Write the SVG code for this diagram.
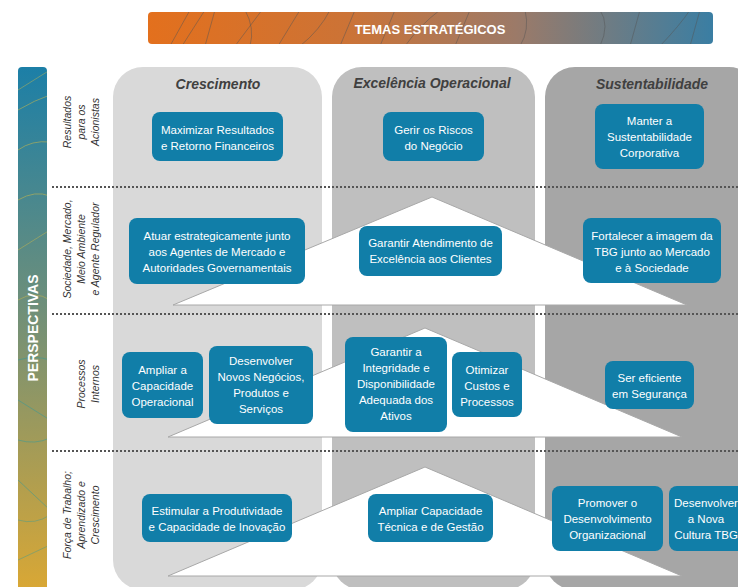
<svg xmlns="http://www.w3.org/2000/svg" width="738" height="587" viewBox="0 0 738 587">
<defs>
<linearGradient id="gBanner" x1="0" y1="0" x2="1" y2="0">
<stop offset="0" stop-color="#e3701d"/>
<stop offset="0.35" stop-color="#cc7336"/>
<stop offset="0.65" stop-color="#9c7a68"/>
<stop offset="1" stop-color="#3a7ea3"/>
</linearGradient>
<linearGradient id="gBar" x1="0" y1="0" x2="0" y2="1">
<stop offset="0" stop-color="#1c7fa7"/>
<stop offset="0.45" stop-color="#6e8f7a"/>
<stop offset="1" stop-color="#dca833"/>
</linearGradient>
<clipPath id="cBanner"><rect x="148" y="12" width="565" height="32" rx="4"/></clipPath>
<clipPath id="cBar"><rect x="18" y="67" width="29" height="530" rx="4"/></clipPath>
<style>
.col-title{font-family:"Liberation Sans",Arial,sans-serif;font-size:14px;font-weight:bold;font-style:italic;fill:#404040;text-anchor:middle}
.row-label{font-family:"Liberation Sans",Arial,sans-serif;font-size:10.5px;font-style:italic;fill:#333333;text-anchor:middle}
.node rect{fill:#117ea8}
.node text{font-family:"Liberation Sans",Arial,sans-serif;font-size:11.5px;fill:#ffffff;text-anchor:middle}
.tri{fill:#ffffff;stroke:#a8a8a8;stroke-width:1}
.dots{stroke:#555555;stroke-width:2;stroke-dasharray:2 2;fill:none}
.deco{fill:none;stroke-width:0.8}
</style>
</defs>

<!-- banner -->
<g id="banner">
<rect x="148" y="12" width="565" height="32" rx="4" fill="url(#gBanner)"/>
<g clip-path="url(#cBanner)" class="deco" stroke="#555555" stroke-opacity="0.6">
<path d="M170 46 L190 10"/><path d="M182 46 L205 10"/><path d="M205 46 L215 10"/>
<path d="M235 46 L262 10"/><path d="M250 46 Q255 28 245 10"/><path d="M278 46 L300 10"/>
<path d="M300 46 Q320 30 330 10"/><path d="M340 46 L355 10"/><path d="M380 46 L395 10"/>
<path d="M405 46 Q420 25 440 10"/><path d="M455 46 L470 10"/><path d="M520 46 Q530 30 525 10"/>
<path d="M600 46 Q610 25 600 10"/><path d="M630 46 L640 10"/><path d="M660 46 Q680 25 690 10"/>
<path d="M690 46 L700 10"/>
</g>
<text x="430" y="34" font-family="'Liberation Sans',Arial,sans-serif" font-size="13" font-weight="bold" fill="#ffffff" text-anchor="middle">TEMAS ESTRATÉGICOS</text>
</g>

<!-- perspectivas bar -->
<g id="perspectivas">
<rect x="18" y="67" width="29" height="530" rx="4" fill="url(#gBar)"/>
<g clip-path="url(#cBar)" class="deco">
<path d="M18 110 Q35 100 50 95" stroke="#e0c040" stroke-opacity="0.6"/>
<path d="M18 150 Q32 140 50 142" stroke="#e0c040" stroke-opacity="0.6"/>
<path d="M18 90 L50 70" stroke="#e0c040" stroke-opacity="0.5"/>
<path d="M18 200 Q35 190 50 196" stroke="#e0c040" stroke-opacity="0.6"/>
<path d="M18 250 L50 230" stroke="#e0c040" stroke-opacity="0.5"/>
<path d="M18 300 Q35 290 50 300" stroke="#e0c040" stroke-opacity="0.5"/>
<path d="M18 360 Q35 355 50 360" stroke="#2a9aa0" stroke-opacity="0.6"/>
<path d="M18 400 L50 420" stroke="#2a9aa0" stroke-opacity="0.6"/>
<path d="M18 440 Q35 445 50 438" stroke="#2a9aa0" stroke-opacity="0.6"/>
<path d="M18 480 L50 510" stroke="#2a9aa0" stroke-opacity="0.6"/>
<path d="M18 520 Q35 525 50 515" stroke="#2a9aa0" stroke-opacity="0.5"/>
<path d="M18 560 L50 545" stroke="#2a9aa0" stroke-opacity="0.5"/>
</g>
<text transform="translate(38,328) rotate(-90)" font-family="'Liberation Sans',Arial,sans-serif" font-size="14" font-weight="bold" fill="#ffffff" text-anchor="middle">PERSPECTIVAS</text>
</g>

<!-- columns -->
<g id="columns">
<rect x="113" y="67" width="209" height="523" rx="30" fill="#d9d9d9"/>
<rect x="332" y="67" width="203" height="523" rx="30" fill="#bfbfbf"/>
<rect x="545" y="67" width="214" height="523" rx="30" fill="#a6a6a6"/>
<text class="col-title" x="218" y="89">Crescimento</text>
<text class="col-title" x="432" y="88">Excelência Operacional</text>
<text class="col-title" x="652" y="89">Sustentabilidade</text>
</g>

<!-- row separators -->
<g id="separators">
<line class="dots" x1="52" y1="187" x2="738" y2="187"/>
<line class="dots" x1="52" y1="314" x2="738" y2="314"/>
<line class="dots" x1="52" y1="451" x2="738" y2="451"/>
</g>

<!-- row labels -->
<g id="row-labels">
<text class="row-label" transform="translate(71,122) rotate(-90)">Resultados</text>
<text class="row-label" transform="translate(85,122) rotate(-90)">para os</text>
<text class="row-label" transform="translate(99,122) rotate(-90)">Acionistas</text>
<text class="row-label" transform="translate(71,249) rotate(-90)">Sociedade, Mercado,</text>
<text class="row-label" transform="translate(85,249) rotate(-90)">Meio Ambiente</text>
<text class="row-label" transform="translate(99,249) rotate(-90)">e Agente Regulador</text>
<text class="row-label" transform="translate(85,384) rotate(-90)">Processos</text>
<text class="row-label" transform="translate(99,384) rotate(-90)">Internos</text>
<text class="row-label" transform="translate(71,515) rotate(-90)">Força de Trabalho;</text>
<text class="row-label" transform="translate(85,515) rotate(-90)">Aprendizado e</text>
<text class="row-label" transform="translate(99,515) rotate(-90)">Crescimento</text>
</g>

<!-- triangles -->
<g id="triangles">
<polygon class="tri" points="432,197 173,305 687,305"/>
<polygon class="tri" points="425,328 168,437 682,437"/>
<polygon class="tri" points="425,467 168,576 682,576"/>
</g>

<g id="connectors"/>

<!-- nodes -->
<g id="n1" class="node"><rect x="152" y="112" width="131" height="49" rx="8"/>
<text x="217.5" y="134">Maximizar Resultados</text><text x="217.5" y="150">e Retorno Financeiros</text></g>
<g id="n2" class="node"><rect x="383" y="112" width="101" height="49" rx="8"/>
<text x="433.5" y="134">Gerir os Riscos</text><text x="433.5" y="150">do Negócio</text></g>
<g id="n3" class="node"><rect x="595" y="104" width="109" height="65" rx="8"/>
<text x="649.5" y="125">Manter a</text><text x="649.5" y="141">Sustentabilidade</text><text x="649.5" y="157">Corporativa</text></g>

<g id="n4" class="node"><rect x="129" y="218" width="176" height="66" rx="8"/>
<text x="217" y="240">Atuar estrategicamente junto</text><text x="217" y="256">aos Agentes de Mercado e</text><text x="217" y="272">Autoridades Governamentais</text></g>
<g id="n5" class="node"><rect x="359" y="226" width="143" height="50" rx="8"/>
<text x="430.5" y="247">Garantir Atendimento de</text><text x="430.5" y="263">Excelência aos Clientes</text></g>
<g id="n6" class="node"><rect x="583" y="218" width="138" height="65" rx="8"/>
<text x="652" y="240">Fortalecer a imagem da</text><text x="652" y="256">TBG junto ao Mercado</text><text x="652" y="272">e à Sociedade</text></g>

<g id="n7" class="node"><rect x="122" y="352" width="81" height="66" rx="8"/>
<text x="162.5" y="374">Ampliar a</text><text x="162.5" y="390">Capacidade</text><text x="162.5" y="406">Operacional</text></g>
<g id="n8" class="node"><rect x="209" y="346" width="104" height="78" rx="8"/>
<text x="261" y="365">Desenvolver</text><text x="261" y="381">Novos Negócios,</text><text x="261" y="397">Produtos e</text><text x="261" y="413">Serviços</text></g>
<g id="n9" class="node"><rect x="345" y="337" width="102" height="95" rx="8"/>
<text x="396" y="356">Garantir a</text><text x="396" y="372">Integridade e</text><text x="396" y="388">Disponibilidade</text><text x="396" y="404">Adequada dos</text><text x="396" y="420">Ativos</text></g>
<g id="n10" class="node"><rect x="452" y="352" width="70" height="65" rx="8"/>
<text x="487" y="374">Otimizar</text><text x="487" y="390">Custos e</text><text x="487" y="406">Processos</text></g>
<g id="n11" class="node"><rect x="605" y="361" width="89" height="48" rx="8"/>
<text x="649.5" y="382">Ser eficiente</text><text x="649.5" y="398">em Segurança</text></g>

<g id="n12" class="node"><rect x="142" y="494" width="150" height="48" rx="8"/>
<text x="217" y="515">Estimular a Produtividade</text><text x="217" y="531">e Capacidade de Inovação</text></g>
<g id="n13" class="node"><rect x="368" y="494" width="125" height="48" rx="8"/>
<text x="430.5" y="515">Ampliar Capacidade</text><text x="430.5" y="531">Técnica e de Gestão</text></g>
<g id="n14" class="node"><rect x="552" y="486" width="111" height="65" rx="8"/>
<text x="607.5" y="507">Promover  o</text><text x="607.5" y="523">Desenvolvimento</text><text x="607.5" y="539">Organizacional</text></g>
<g id="n15" class="node"><rect x="669" y="486" width="85" height="65" rx="8"/>
<text x="706" y="507">Desenvolver</text><text x="706" y="523">a Nova</text><text x="706" y="539">Cultura TBG</text></g>
</svg>
